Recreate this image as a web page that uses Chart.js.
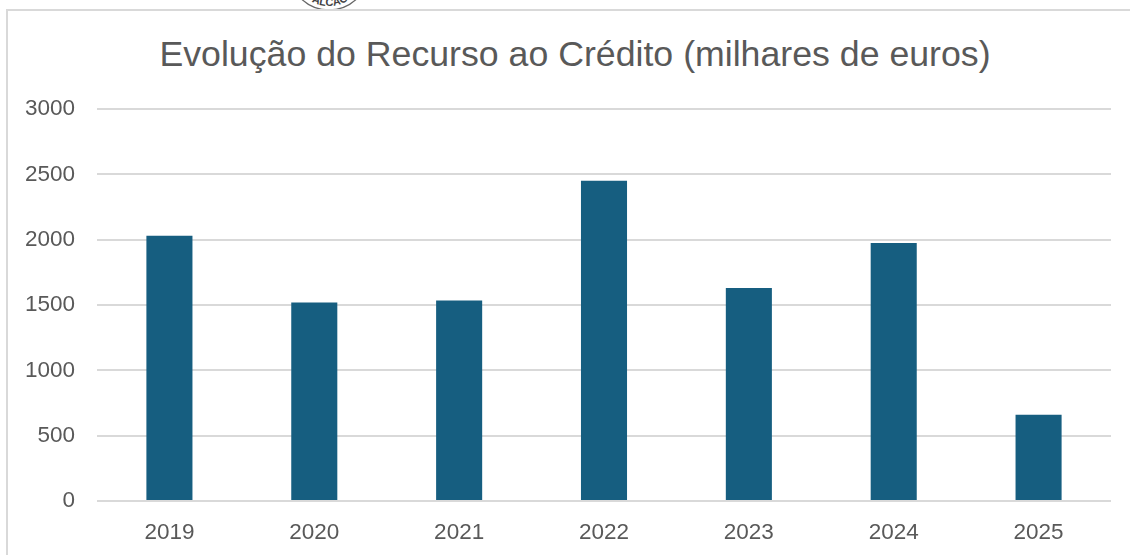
<!DOCTYPE html>
<html>
<head>
<meta charset="utf-8">
<script src="https://cdn.jsdelivr.net/npm/chart.js@4/dist/chart.umd.min.js"></script>
<style>
  html, body { margin: 0; padding: 0; background: #ffffff; }
  body { width: 1130px; height: 555px; position: relative; overflow: hidden; }
  #frame { position: absolute; left: 6px; top: 9px; width: 1140px; height: 560px;
           border-left: 2px solid #d9d9d9; border-top: 2px solid #d9d9d9; box-sizing: border-box; }
  #logo { position: absolute; left: 281px; top: -38px; }
  #wrap { position: absolute; left: 0; top: 0; width: 1130px; height: 555px; }
  #title { position: absolute; left: 0; top: 33px; width: 1150px; text-align: center;
           font-family: 'Liberation Sans', sans-serif; font-size: 35.7px; line-height: 43px;
           color: #595959; white-space: nowrap; }
</style>
</head>
<body>
<svg id="logo" width="96" height="50" viewBox="0 0 96 50">
  <defs><path id="arc" d="M 12 8 A 36 36 0 0 0 84 8" fill="none"/></defs>
  <path d="M 8 8 A 40 40 0 0 0 88 8" fill="none" stroke="#666" stroke-width="1.3"/>
  <text font-family="Liberation Sans" font-size="11" font-weight="bold" fill="#444"><textPath href="#arc" startOffset="18%">DE ALCAC</textPath></text>
</svg>
<div id="frame"></div>
<div id="title"></div>
<div id="wrap"><canvas id="c"></canvas></div>
<script>
const categories = ['2019', '2020', '2021', '2022', '2023', '2024', '2025'];
const creditValues = [2030, 1520, 1535, 2450, 1630, 1975, 660];
const yTicks = [0, 500, 1000, 1500, 2000, 2500, 3000];
const chartTitle = 'Evolução do Recurso ao Crédito (milhares de euros)';

const textColor = '#595959';
const gridColor = '#d9d9d9';

document.getElementById('title').textContent = chartTitle;

new Chart(document.getElementById('c'), {
  type: 'bar',
  data: {
    labels: categories,
    datasets: [{
      data: creditValues,
      backgroundColor: '#165e80',
      borderWidth: 0,
      categoryPercentage: 1,
      barPercentage: 0.318
    }]
  },
  options: {
    responsive: true,
    maintainAspectRatio: false,
    animation: false,
    layout: { padding: { left: 0, right: 19, top: 109, bottom: 0 } },
    plugins: {
      legend: { display: false },
      tooltip: { enabled: false },
      title: { display: false }
    },
    scales: {
      x: {
        grid: { display: false, drawTicks: false },
        border: { display: false },
        ticks: { color: textColor, font: { family: 'Liberation Sans', size: 22.5 }, padding: 18, maxRotation: 0 },
        afterFit: s => { s.height = 54; }
      },
      y: {
        min: 0, max: 3000,
        afterBuildTicks: s => { s.ticks = yTicks.map(v => ({ value: v })); },
        grid: { color: gridColor, lineWidth: 2, drawTicks: false },
        border: { display: false },
        ticks: { color: textColor, font: { family: 'Liberation Sans', size: 22.5 }, padding: 22,
                 callback: v => String(v) },
        afterFit: s => { s.width = 97; }
      }
    }
  }
});
</script>
</body>
</html>
